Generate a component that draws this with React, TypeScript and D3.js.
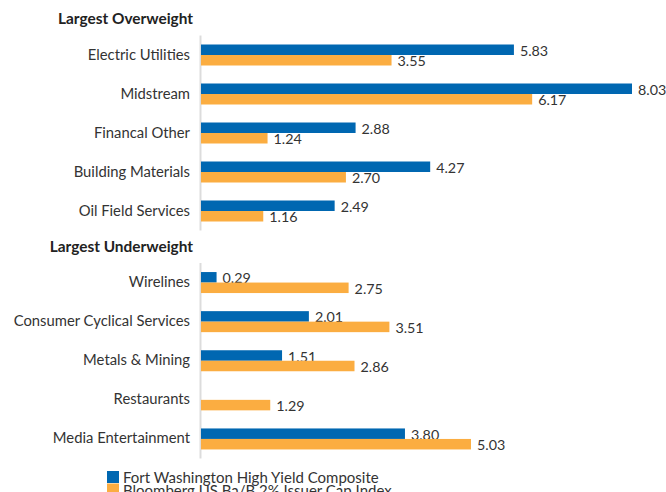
import React from "react";
import * as d3 from "d3";

const overCategories = ["Electric Utilities", "Midstream", "Financal Other", "Building Materials", "Oil Field Services"];
const overFund = [5.83, 8.03, 2.88, 4.27, 2.49];
const overIndex = [3.55, 6.17, 1.24, 2.70, 1.16];

const underCategories = ["Wirelines", "Consumer Cyclical Services", "Metals & Mining", "Restaurants", "Media Entertainment"];
const underFund: (number | null)[] = [0.29, 2.01, 1.51, null, 3.80];
const underIndex = [2.75, 3.51, 2.86, 1.29, 5.03];

const seriesNames = ["Fort Washington High Yield Composite", "Bloomberg US Ba/B 2% Issuer Cap Index"];
const colors = ["#0067b1", "#fbad41"];
const groupTitles = ["Largest Overweight", "Largest Underweight"];

const W = 666, H = 492;
const FONT = "Lato, 'Open Sans', sans-serif";
const TEXT = "#333333";

export default function App() {
  const x = d3.scaleLinear().domain([0, 8.03]).range([201, 632]);
  const groups = [
    { title: groupTitles[0], cats: overCategories, a: overFund as (number | null)[], b: overIndex, range: [35.5, 230.5] as [number, number], titleY: 18 },
    { title: groupTitles[1], cats: underCategories, a: underFund, b: underIndex, range: [263, 458.5] as [number, number], titleY: 246 },
  ];
  const sub = d3.scaleBand<number>().domain([0, 1]).range([-10.5, 10.5]).padding(0);

  return (
    <svg width={W} height={H} style={{ position: "absolute", left: 0, top: 0 }} fontFamily={FONT}>
      {groups.map((g, gi) => {
        const y = d3.scaleBand<string>().domain(g.cats).range(g.range).padding(0);
        return (
          <g key={gi}>
            <text x={193} y={g.titleY} textAnchor="end" dominantBaseline="central" fontSize={15.4} fontWeight="bold" fill="#222">{g.title}</text>
            <line x1={200.5} x2={200.5} y1={g.range[0]} y2={g.range[1]} stroke="#dcdcdc" strokeWidth={2} />
            {g.cats.map((c, i) => {
              const cy = (y(c) as number) + y.bandwidth() / 2;
              const vals = [g.a[i], g.b[i]];
              return (
                <g key={c}>
                  <text x={190} y={cy - 1.5} textAnchor="end" dominantBaseline="central" fontSize={14.8} fill={TEXT}>{c}</text>
                  {vals.map((v, si) => {
                    if (v == null) return null;
                    const by = cy + (sub(si) as number);
                    return (
                      <g key={si}>
                        <rect x={x(0)} y={by} width={x(v) - x(0)} height={sub.bandwidth()} fill={colors[si]} />
                        <text x={x(v) + 6} y={by + sub.bandwidth() / 2 + 0.5} dominantBaseline="central" fontSize={14.3} fill={TEXT}>{v.toFixed(2)}</text>
                      </g>
                    );
                  })}
                </g>
              );
            })}
          </g>
        );
      })}
      {seriesNames.map((s, i) => (
        <g key={s} transform={`translate(107, ${471 + i * 12.5})`}>
          <rect x={0} y={0} width={12} height={12} fill={colors[i]} />
          <text x={16} y={6} dominantBaseline="central" fontSize={15} fill={TEXT}>{s}</text>
        </g>
      ))}
    </svg>
  );
}
